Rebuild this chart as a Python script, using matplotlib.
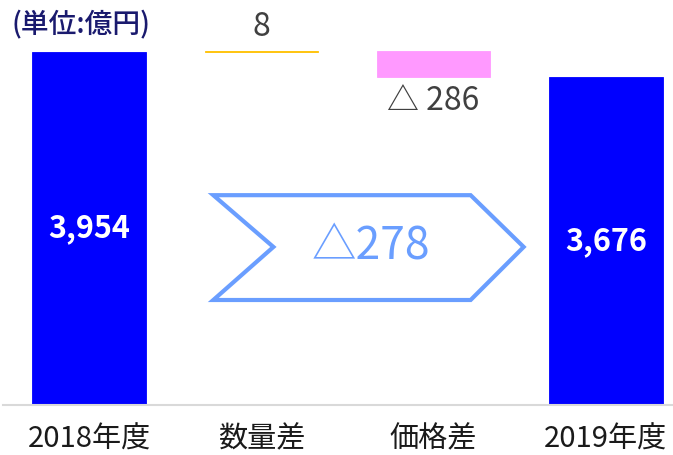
import matplotlib
matplotlib.use('Agg')
import matplotlib.pyplot as plt
from matplotlib.patches import Polygon
import numpy as np

plt.rcParams['font.family'] = ['Noto Sans CJK JP', 'DejaVu Sans']

# ================== data =================
categories = ['2018年度', '数量差', '価格差', '2019年度']
start_value = 3954
changes = [8, -286]
end_value = 3676
change_labels = ['8', '△ 286']
total_change_label = '△278'

bar_colors = ['#0000FF', '#FFC000', '#FF99FF', '#0000FF']

# waterfall geometry from the data
bottoms = [0]
heights = [start_value]
level = start_value
for c in changes:
    if c >= 0:
        bottoms.append(level)
        heights.append(c)
    else:
        bottoms.append(level + c)
        heights.append(-c)
    level += c
bottoms.append(0)
heights.append(end_value)

fig = plt.figure(figsize=(6.73, 4.55), dpi=100)
ax = fig.add_axes([3 / 673, 50 / 455, 670 / 673, 375 / 455])

x = np.arange(len(categories))
ax.bar(x, heights, bottom=bottoms, width=0.66, color=bar_colors,
       edgecolor=bar_colors, linewidth=0.6)

ax.set_xlim(-0.5, 3.39)
ax.set_ylim(0, 4200)

# totals inside the bars
for i, v in [(0, start_value), (3, end_value)]:
    ax.text(x[i], v / 2, f'{v:,}', ha='center', va='center', color='white',
            fontsize=22, fontweight='bold')

# change labels
ax.text(x[1], bottoms[1] + heights[1] + 90, change_labels[0], ha='center', va='bottom',
        color='#404040', fontsize=23)
ax.text(x[2], bottoms[2] - 90, change_labels[1], ha='center', va='top',
        color='#404040', fontsize=23)

# chevron arrow with the total change
arrow_col = '#6A9EFF'
pts = [(0.721, 2350), (2.215, 2350), (2.523, 1770), (2.215, 1176),
       (0.721, 1176), (1.070, 1770)]
ax.add_patch(Polygon(pts, closed=True, fill=False, edgecolor=arrow_col,
                     linewidth=3, joinstyle='miter'))
ax.text(1.635, 1770, total_change_label, ha='center', va='center',
        color=arrow_col, fontsize=32)

ax.set_xticks(x)
ax.set_xticklabels(categories, fontsize=21, color='#1a1a1a')
ax.tick_params(axis='x', length=0, pad=14)
ax.set_yticks([])
for s in ['top', 'right', 'left']:
    ax.spines[s].set_visible(False)
ax.spines['bottom'].set_color('#D9D9D9')
ax.spines['bottom'].set_linewidth(1.5)

fig.text(11 / 673, 1 - 25 / 455, '(単位:億円)', ha='left', va='center',
         color='#1A1A6E', fontsize=20, fontweight='medium')

fig.savefig('out.png', dpi=100)
